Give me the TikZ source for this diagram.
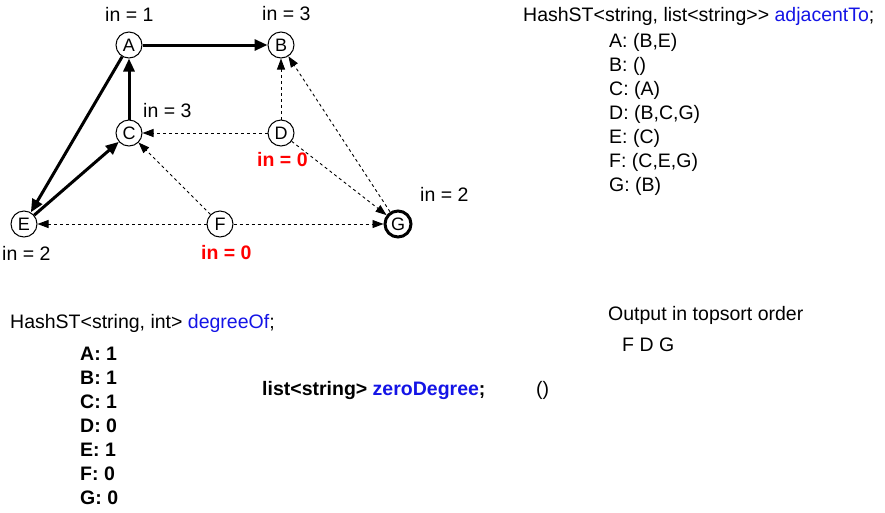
\documentclass[tikz,border=0pt]{standalone}
\usepackage{fontspec}
\setmainfont{Liberation Sans}
\usetikzlibrary{arrows.meta}
\begin{document}
\begin{tikzpicture}[x=1pt,y=-1pt,
  vtx/.style={circle,draw,line width=1pt,fill=white,minimum size=26pt,inner sep=0pt,font=\fontsize{18}{21}\selectfont},
  txt/.style={anchor=west,inner sep=0pt,font=\fontsize{19.5}{22}\selectfont},
  bl/.style={txt,font=\fontsize{19.5}{22}\selectfont\bfseries},
  red0/.style={txt,font=\fontsize{19.5}{22}\selectfont\bfseries,text=red},
  thk/.style={line width=3pt,-{Triangle[length=13pt,width=11pt]}},
  dsh/.style={dashed,line width=0.9pt,-{Triangle[length=11pt,width=8pt]}}]
\useasboundingbox (0,0) rectangle (885,512);
\definecolor{kb}{RGB}{20,20,230}
\node[vtx] (A) at (129,45) {A};
\node[vtx] (B) at (281,45) {B};
\node[vtx] (C) at (129,133) {C};
\node[vtx] (D) at (281,133) {D};
\node[vtx] (E) at (24,224) {E};
\node[vtx] (F) at (220,224) {F};
\node[vtx,line width=3pt] (G) at (398,224) {G};
\draw[thk] (A) -- (B);
\draw[thk] (C) -- (A);
\draw[thk] (E) -- (C);
\draw[thk] (A) -- (E);
\draw[dsh] (D) -- (B);
\draw[dsh] (D) -- (C);
\draw[dsh] (D) -- (G);
\draw[dsh] (F) -- (C);
\draw[dsh] (F) -- (E);
\draw[dsh] (F) -- (G);
\draw[dsh] (G) -- (B);
\node[txt] (l1) at (105,14) {in = 1};
\node[txt] (l2) at (262,14) {in = 3};
\node[txt] (l3) at (143,111) {in = 3};
\node[red0] (l4) at (257,160) {in = 0};
\node[txt] (l5) at (420,194) {in = 2};
\node[txt] (l6) at (2,253) {in = 2};
\node[red0] (l7) at (201,253) {in = 0};
\node[txt] (h1) at (523,16) {HashST<string, list<string>{}> \textcolor{kb}{adjacentTo};};
\foreach \t [count=\i] in {{A: (B,E)},{B: ()},{C: (A)},{D: (B,C,G)},{E: (C)},{F: (C,E,G)},{G: (B)}}
  \node[txt] (r\i) at (609,18+24*\i) {\t};
\node[txt] (h2) at (10,323) {HashST<string, int> \textcolor{kb}{degreeOf};};
\foreach \t [count=\i] in {A: 1,B: 1,C: 1,D: 0,E: 1,F: 0,G: 0}
  \node[bl] (d\i) at (80,330+24*\i) {\t};
\node[bl] (z) at (262,390) {list<string> \textcolor{kb}{zeroDegree};};
\node[txt] (zp) at (536,390) {()};
\node[txt] (o1) at (608,315) {Output in topsort order};
\node[txt] (o2) at (622,345) {F D G};
\end{tikzpicture}
\end{document}
